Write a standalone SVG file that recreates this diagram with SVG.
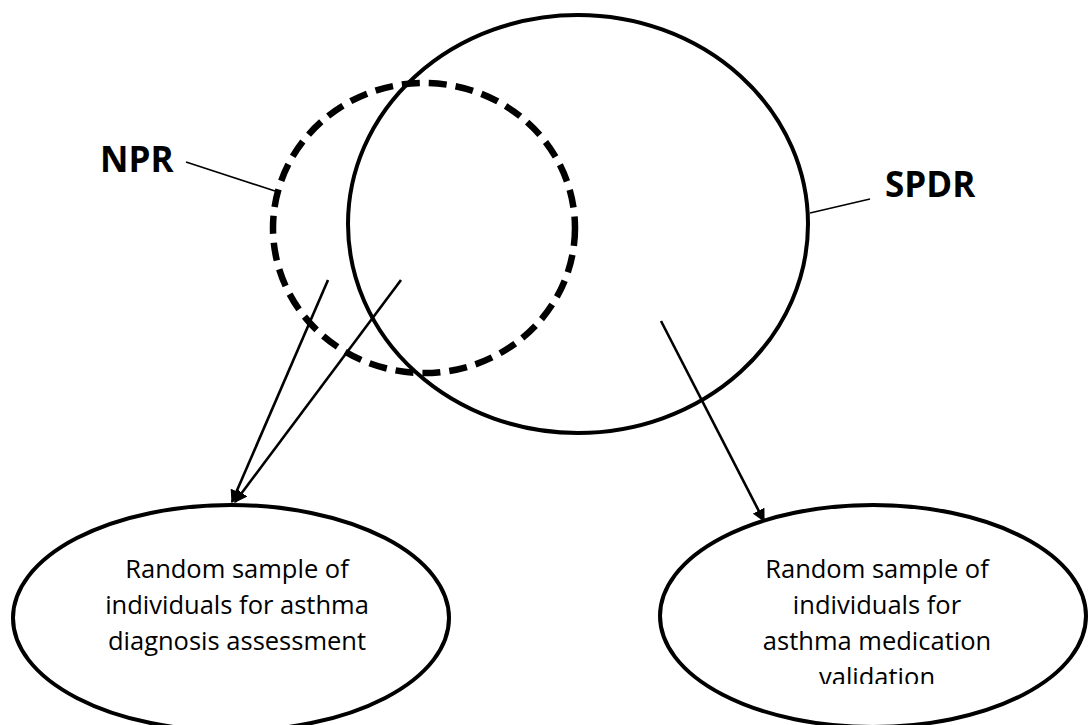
<svg xmlns="http://www.w3.org/2000/svg" width="1088" height="725" viewBox="0 0 1088 725">
<style>
.lbl{font-family:"Open Sans","Liberation Sans",sans-serif;font-weight:bold;font-size:35px;fill:#000}
.txt{font-family:"Open Sans","Liberation Sans",sans-serif;font-size:25.5px;fill:#000;text-anchor:middle}
.shape{fill:none;stroke:#000}
.conn{stroke:#000;stroke-width:2.6;fill:none}
.thin{stroke:#000;stroke-width:1.6;fill:none}
</style>
<defs>
<marker id="arr" viewBox="0 0 10 10" refX="9" refY="5" markerWidth="5" markerHeight="5" orient="auto" markerUnits="strokeWidth">
<path d="M0,0 L10,5 L0,10 z" fill="#000"/>
</marker>
<clipPath id="clipR"><rect x="600" y="500" width="488" height="184"/></clipPath>
</defs>
<rect width="1088" height="725" fill="#fff"/>
<g id="SPDR">
<ellipse class="shape" cx="578" cy="224" rx="230" ry="209" stroke-width="4"/>
<text class="lbl" x="885" y="197">SPDR</text>
</g>
<g id="NPR">
<ellipse class="shape" cx="424" cy="228" rx="151" ry="145" stroke-width="6.5" stroke-dasharray="18 9"/>
<text class="lbl" x="100" y="172">NPR</text>
</g>
<g id="sample-diagnosis">
<ellipse class="shape" cx="231" cy="618" rx="218" ry="113" stroke-width="4"/>
<text class="txt" x="237" y="578">Random sample of</text>
<text class="txt" x="237" y="614">individuals for asthma</text>
<text class="txt" x="237" y="650">diagnosis assessment</text>
</g>
<g id="sample-medication">
<ellipse class="shape" cx="873" cy="616" rx="213" ry="111" stroke-width="4"/>
<text class="txt" x="877" y="578">Random sample of</text>
<text class="txt" x="877" y="614">individuals for</text>
<text class="txt" x="877" y="650">asthma medication</text>
<text class="txt" x="877" y="686" clip-path="url(#clipR)">validation</text>
</g>
<g id="connectors">
<line class="thin" x1="186" y1="162" x2="275" y2="191"/>
<line class="thin" x1="810" y1="213" x2="870" y2="199"/>
<line class="conn" x1="328" y1="280" x2="232" y2="502" marker-end="url(#arr)"/>
<line class="conn" x1="401" y1="280" x2="235" y2="502" marker-end="url(#arr)"/>
<line class="conn" x1="661" y1="321" x2="764" y2="521" marker-end="url(#arr)"/>
</g>
</svg>
